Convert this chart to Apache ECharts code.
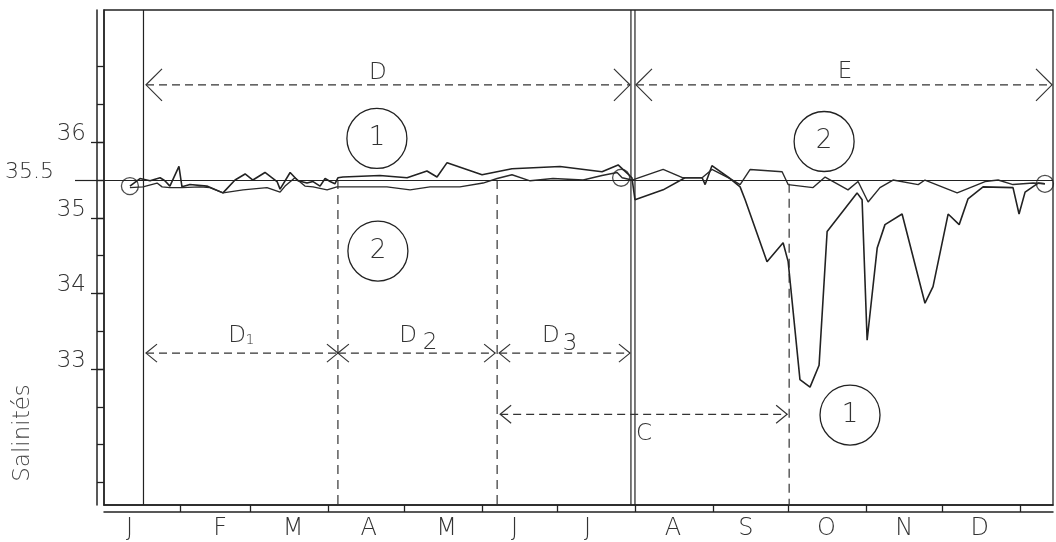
<!DOCTYPE html>
<html><head><meta charset="utf-8">
<script src="https://cdn.jsdelivr.net/npm/echarts@6/dist/echarts.min.js"></script>
<style>html,body{margin:0;padding:0;background:#fff}#c{width:1056px;height:542px}</style>
</head><body><div id="c"></div>
<script>
// ---- data (x = day of year, y = salinity) ----
const monthLabels = ['J','F','M','A','M','J','J','A','S','O','N','D'];
const monthLabelDays = [11,47,76,106,137,164,193,227,256,288,319,349];
const monthStartDays = [31,59,90,120,151,181,212,243,273,304,334,365];
const yMinorTicks = [31.5,32,32.5,33,33.5,34,34.5,35,35.5,36,36.5,37];
const yLabelTicks = [33,34,35,36];
const yRefValue = 35.5;

const series1 = [
 [11.1,35.42],[15.1,35.52],[19.1,35.49],[23.1,35.53],[25.0,35.49],[27.0,35.42],[30.6,35.68],[31.8,35.41],
 [35.0,35.44],[41.7,35.42],[48.1,35.33],[52.9,35.50],[56.9,35.58],[60.0,35.50],[64.8,35.60],[69.6,35.48],
 [70.8,35.38],[74.8,35.60],[77.9,35.49],[81.5,35.46],[83.9,35.48],[86.7,35.42],[88.7,35.52],[90.7,35.48],
 [92.6,35.45],[93.8,35.53],[95.8,35.54],[110.5,35.56],[121.3,35.53],[129.2,35.62],[133.2,35.54],[137.2,35.73],
 [151.1,35.57],[163.0,35.65],[182.1,35.68],[198.8,35.61],[205.2,35.70],[210.7,35.53],
 [211.9,35.24],[223.1,35.37],[231.8,35.53],[238.6,35.53],[239.8,35.44],[242.5,35.69],[249.7,35.52],[253.7,35.41],
 [255.7,35.24],[264.4,34.42],[270.8,34.67],[272.8,34.42],[277.5,32.86],[281.5,32.76],[285.1,33.05],[288.3,34.82],
 [300.2,35.33],[302.2,35.24],[304.2,33.38],[308.2,34.60],[311.3,34.91],[318.1,35.05],[327.2,33.87],[330.4,34.09],
 [336.4,35.05],[340.8,34.91],[344.3,35.25],[350.3,35.41],[362.2,35.40],[364.6,35.05],[367.0,35.34],[372.2,35.46],
 [374.9,35.45]
];
const series2 = [
 [11.1,35.40],[16.3,35.41],[21.9,35.46],[23.9,35.41],[27.0,35.40],[31.8,35.40],[39.0,35.41],[42.9,35.40],
 [48.1,35.33],[56.1,35.37],[65.6,35.40],[70.8,35.34],[72.8,35.42],[76.7,35.53],[80.7,35.42],[83.9,35.41],
 [89.5,35.37],[93.4,35.41],[95.8,35.41],[113.3,35.41],[122.5,35.37],[130.4,35.41],[142.3,35.41],[151.5,35.46],
 [157.1,35.52],[163.0,35.57],[170.2,35.49],[179.3,35.52],[191.3,35.50],[198.8,35.56],[204.8,35.60],[206.8,35.53],
 [210.7,35.50],
 [211.1,35.52],[223.1,35.64],[231.0,35.53],[238.6,35.53],[242.5,35.64],[249.7,35.52],[253.7,35.44],[257.7,35.64],
 [270.4,35.61],[272.8,35.44],[282.7,35.40],[287.5,35.54],[296.6,35.37],[300.6,35.48],[304.6,35.21],[309.3,35.40],
 [314.5,35.50],[324.5,35.44],[327.2,35.50],[340.0,35.33],[351.1,35.48],[356.3,35.50],[362.2,35.44],[370.2,35.46],
 [374.9,35.45]
];
const endpointMarkers = [[11.1,35.42],[206.4,35.53],[374.9,35.45]];

const solidVerticals = [16.5, 210.3, 211.9];
const dashedVerticals = [[93.8,35.5],[157.1,35.5],[273.2,35.45]];
// [start day, end day, salinity level]
const periodArrows = [[17.5,209.9,36.76],[212.3,377.7,36.76],[17.5,93.8,33.21],[93.8,156.3,33.21],[157.9,209.9,33.21],[158.3,272.4,32.40]];
const periodText = ['D','E','D','1','D','2','D','3','C'];
const periodTextPos = [[109.7,36.92],[295.4,36.93],[53.7,33.44],[58.8,33.38],[121.7,33.44],[130.4,33.34],[178.5,33.44],[186.1,33.33],[215.5,32.14]];
const circledNumbers = ['1','2','2','1'];
const circledPos = [[109.3,36.05],[109.7,34.56],[287.1,36.01],[297.4,32.39]];

// ---- styling ----
const INK = '#222';
const TXT = '#333';
const FONT = "'DejaVu Sans ExtraLight','DejaVu Sans Light','Liberation Sans',sans-serif";

const chart = echarts.init(document.getElementById('c'), null, {renderer:'canvas'});
const xBase = {type:'value', min:0.8, max:378.1, position:'bottom', splitLine:{show:false}};
const yBase = {type:'value', min:31.2, max:37.75, position:'left', splitLine:{show:false}};

function renderArrow(params, api){
  const s = api.coord([api.value(0), api.value(2)]);
  const e = api.coord([api.value(1), api.value(2)]);
  const big = api.value(2) > 36;
  const L = big ? 16 : 11, H = big ? 16 : 9;
  const st = {stroke:TXT, lineWidth:1.2, fill:'none'};
  return {type:'group', children:[
    {type:'line', shape:{x1:s[0],y1:s[1],x2:e[0],y2:e[1]}, style:{stroke:TXT, lineWidth:1.2, lineDash:[8,5]}},
    {type:'polyline', shape:{points:[[s[0]+L,s[1]-H],[s[0],s[1]],[s[0]+L,s[1]+H]]}, style:st},
    {type:'polyline', shape:{points:[[e[0]-L,e[1]-H],[e[0],e[1]],[e[0]-L,e[1]+H]]}, style:st}
  ]};
}

const option = {
  animation:false,
  backgroundColor:'#fff',
  grid:{left:104, right:3, top:10, bottom:37, show:true, borderColor:INK, borderWidth:1.3},
  xAxis:[
    {...xBase, axisLine:{show:true, lineStyle:{color:INK, width:1.5}},
     axisTick:{show:true, length:7, customValues:monthStartDays, lineStyle:{color:INK, width:1.3}},
     axisLabel:{show:true, customValues:monthLabelDays, formatter:(v)=>monthLabels[monthLabelDays.indexOf(v)] || '',
       margin:12, fontSize:24, color:TXT, fontFamily:FONT}},
    {...xBase, offset:7, axisLine:{show:true, lineStyle:{color:INK, width:1.5}}, axisTick:{show:false}, axisLabel:{show:false}}
  ],
  yAxis:[
    {...yBase, axisLine:{show:true, lineStyle:{color:INK, width:1.5}},
     axisTick:{show:true, length:7, customValues:yMinorTicks, lineStyle:{color:INK, width:1.3}}, axisLabel:{show:false}},
    {...yBase, offset:7, axisLine:{show:true, lineStyle:{color:INK, width:1.5}}, axisTick:{show:false}, axisLabel:{show:false}},
    {...yBase, axisLine:{show:false},
     axisTick:{show:true, length:13, customValues:yLabelTicks, lineStyle:{color:INK, width:1.3}},
     axisLabel:{show:true, customValues:yLabelTicks, margin:18, fontSize:23, color:TXT, fontFamily:FONT,
       verticalAlign:'bottom', lineHeight:16}},
    {...yBase, axisLine:{show:false},
     axisTick:{show:true, length:29, customValues:[yRefValue], lineStyle:{color:INK, width:1.2}},
     axisLabel:{show:true, customValues:[yRefValue], margin:50, fontSize:22, color:TXT, fontFamily:FONT,
       verticalAlign:'bottom', lineHeight:16}}
  ],
  graphic:[{type:'text', x:23, y:433, rotation:Math.PI/2,
    style:{text:'Salinités', fontSize:23, fill:'#444', fontFamily:FONT, align:'center', verticalAlign:'middle'}}],
  series:[
    {type:'line', data:series1, symbol:'none', lineStyle:{color:INK, width:1.6},
     markLine:{silent:true, symbol:'none', label:{show:false}, lineStyle:{color:INK, type:'solid', width:1.2}, data:[{yAxis:yRefValue}]}},
    {type:'line', data:series2, symbol:'none', lineStyle:{color:'#2a2a2a', width:1.4}},
    {type:'scatter', data:endpointMarkers, symbol:'circle', symbolSize:17,
     itemStyle:{color:'rgba(0,0,0,0)', borderColor:INK, borderWidth:1.3}},
    {type:'custom', data:solidVerticals.map(v=>[v]), encode:{x:0},
     renderItem:(params, api)=>{
       const cs = params.coordSys; const x = api.coord([api.value(0), 35])[0];
       return {type:'line', shape:{x1:x,y1:cs.y,x2:x,y2:cs.y+cs.height}, style:{stroke:INK, lineWidth:1.2}};
     }},
    {type:'custom', data:dashedVerticals, encode:{x:0,y:1},
     renderItem:(params, api)=>{
       const cs = params.coordSys; const p = api.coord([api.value(0), api.value(1)]);
       return {type:'line', shape:{x1:p[0],y1:p[1],x2:p[0],y2:cs.y+cs.height}, style:{stroke:TXT, lineWidth:1.2, lineDash:[9,6]}};
     }},
    {type:'custom', data:periodArrows, encode:{x:[0,1], y:2}, renderItem:renderArrow},
    {type:'custom', data:periodTextPos, encode:{x:0,y:1},
     renderItem:(params, api)=>{
       const p = api.coord([api.value(0), api.value(1)]);
       const t = periodText[params.dataIndex];
       const small = (t === '1');
       return {type:'text', x:p[0], y:p[1], style:{text:t, fontSize: small ? 14 : 23, fill:TXT, fontFamily:FONT, align:'center', verticalAlign:'middle'}};
     }},
    {type:'custom', data:circledPos, encode:{x:0,y:1},
     renderItem:(params, api)=>{
       const p = api.coord([api.value(0), api.value(1)]);
       return {type:'group', children:[
         {type:'circle', shape:{cx:p[0], cy:p[1], r:30}, style:{stroke:INK, lineWidth:1.3, fill:'none'}},
         {type:'text', x:p[0], y:p[1], style:{text:circledNumbers[params.dataIndex], fontSize:26, fill:TXT, fontFamily:FONT, align:'center', verticalAlign:'middle'}}
       ]};
     }}
  ]
};
chart.setOption(option);
</script></body></html>
